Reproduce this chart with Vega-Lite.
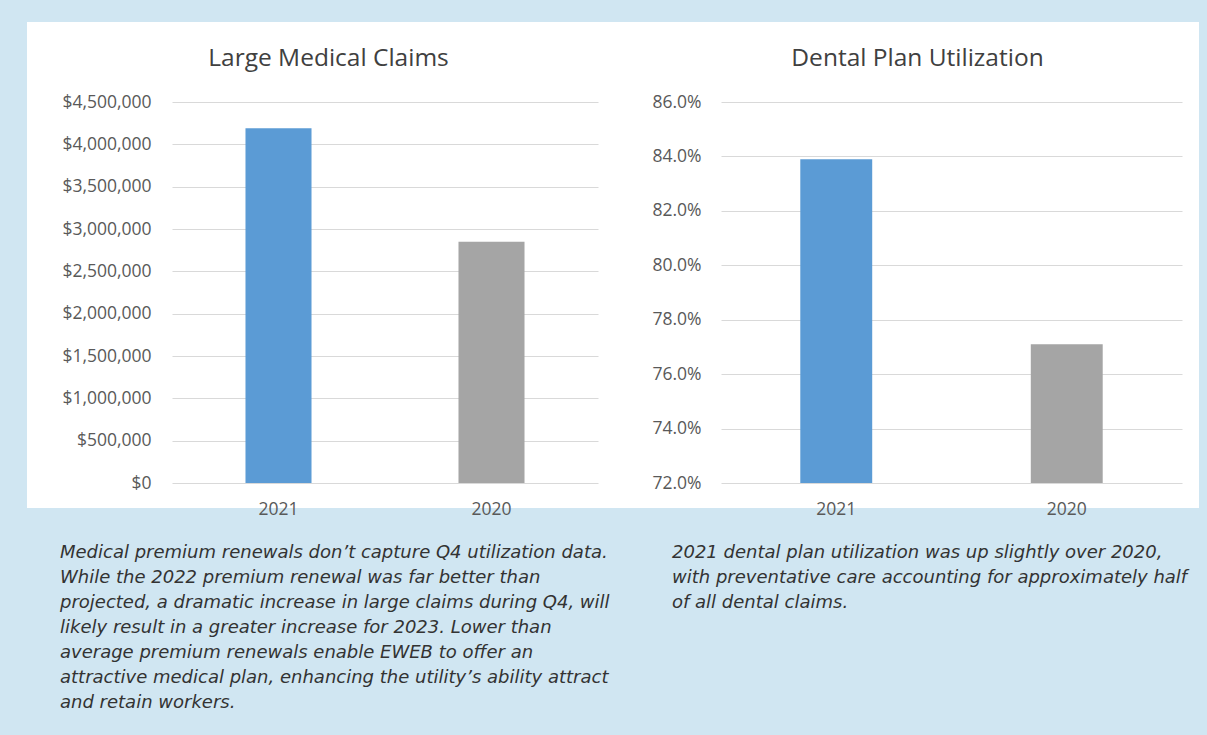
{
  "$schema": "https://vega.github.io/schema/vega-lite/v6.json",
  "background": "#d0e6f2",
  "padding": {"left": 27, "top": 22, "right": 8, "bottom": 25},
  "config": {
    "view": {"fill": "#ffffff", "stroke": null},
    "font": "Open Sans",
    "axis": {
      "labelFont": "Open Sans",
      "labelColor": "#595959",
      "labelFontSize": 17.5,
      "domain": false,
      "ticks": false,
      "tickSize": 0,
      "title": null,
      "gridColor": "#d9d9d9",
      "gridWidth": 1
    },
    "title": {
      "font": "Open Sans",
      "fontWeight": "normal",
      "color": "#404040",
      "fontSize": 24.5
    },
    "concat": {"spacing": 0}
  },
  "hconcat": [
    {
      "title": {
        "text": [
          "Medical premium renewals don’t capture Q4 utilization data.",
          "While the 2022 premium renewal was far better than",
          "projected, a dramatic increase in large claims during Q4, will",
          "likely result in a greater increase for 2023. Lower than",
          "average premium renewals enable EWEB to offer an",
          "attractive medical plan, enhancing the utility’s ability attract",
          "and retain workers."
        ],
        "orient": "bottom",
        "anchor": "start",
        "frame": "group",
        "dx": 33,
        "offset": 26,
        "baseline": "top",
        "font": "DejaVu Sans",
        "fontStyle": "italic",
        "fontWeight": "normal",
        "fontSize": 18,
        "lineHeight": 25,
        "color": "#333333"
      },
      "vconcat": [
        {
          "width": 583,
          "height": 486,
          "title": {
            "text": "Large Medical Claims",
            "frame": "group",
            "anchor": "middle",
            "baseline": "alphabetic",
            "offset": -68,
            "dx": 10
          },
          "data": {
            "values": [
              {"year": "2021", "claims": 4190000},
              {"year": "2020", "claims": 2850000}
            ]
          },
          "mark": {"type": "bar"},
          "encoding": {
            "x": {
              "field": "year",
              "type": "nominal",
              "sort": ["2021", "2020"],
              "scale": {"range": [145, 571], "paddingInner": 0.69, "paddingOuter": 0.345},
              "axis": {"offset": -25, "labelPadding": 17, "labelAngle": 0, "grid": false}
            },
            "y": {
              "field": "claims",
              "type": "quantitative",
              "scale": {"domain": [0, 4500000], "range": [461, 80]},
              "axis": {
                "offset": -145,
                "labelPadding": 21,
                "values": [0, 500000, 1000000, 1500000, 2000000, 2500000, 3000000, 3500000, 4000000, 4500000],
                "format": "$,.0f",
                "grid": true
              }
            },
            "y2": {"datum": 0},
            "color": {
              "field": "year",
              "type": "nominal",
              "scale": {"domain": ["2021", "2020"], "range": ["#5b9bd5", "#a5a5a5"]},
              "legend": null
            }
          }
        }
      ]
    },
    {
      "title": {
        "text": [
          "2021 dental plan utilization was up slightly over 2020,",
          "with preventative care accounting for approximately half",
          "of all dental claims."
        ],
        "orient": "bottom",
        "anchor": "start",
        "frame": "group",
        "dx": 62,
        "offset": 26,
        "baseline": "top",
        "font": "DejaVu Sans",
        "fontStyle": "italic",
        "fontWeight": "normal",
        "fontSize": 18,
        "lineHeight": 25,
        "color": "#333333"
      },
      "vconcat": [
        {
          "width": 589,
          "height": 486,
          "title": {
            "text": "Dental Plan Utilization",
            "frame": "group",
            "anchor": "middle",
            "baseline": "alphabetic",
            "offset": -68,
            "dx": 13
          },
          "data": {
            "values": [
              {"year": "2021", "utilization": 0.839},
              {"year": "2020", "utilization": 0.771}
            ]
          },
          "mark": {"type": "bar"},
          "encoding": {
            "x": {
              "field": "year",
              "type": "nominal",
              "sort": ["2021", "2020"],
              "scale": {"range": [111, 572], "paddingInner": 0.688, "paddingOuter": 0.344},
              "axis": {"offset": -25, "labelPadding": 17, "labelAngle": 0, "grid": false}
            },
            "y": {
              "field": "utilization",
              "type": "quantitative",
              "scale": {"domain": [0.72, 0.86], "range": [461, 80], "zero": false},
              "axis": {
                "offset": -111,
                "labelPadding": 20,
                "values": [0.72, 0.74, 0.76, 0.78, 0.8, 0.82, 0.84, 0.86],
                "format": ".1%",
                "grid": true
              }
            },
            "y2": {"datum": 0.72},
            "color": {
              "field": "year",
              "type": "nominal",
              "scale": {"domain": ["2021", "2020"], "range": ["#5b9bd5", "#a5a5a5"]},
              "legend": null
            }
          }
        }
      ]
    }
  ]
}
